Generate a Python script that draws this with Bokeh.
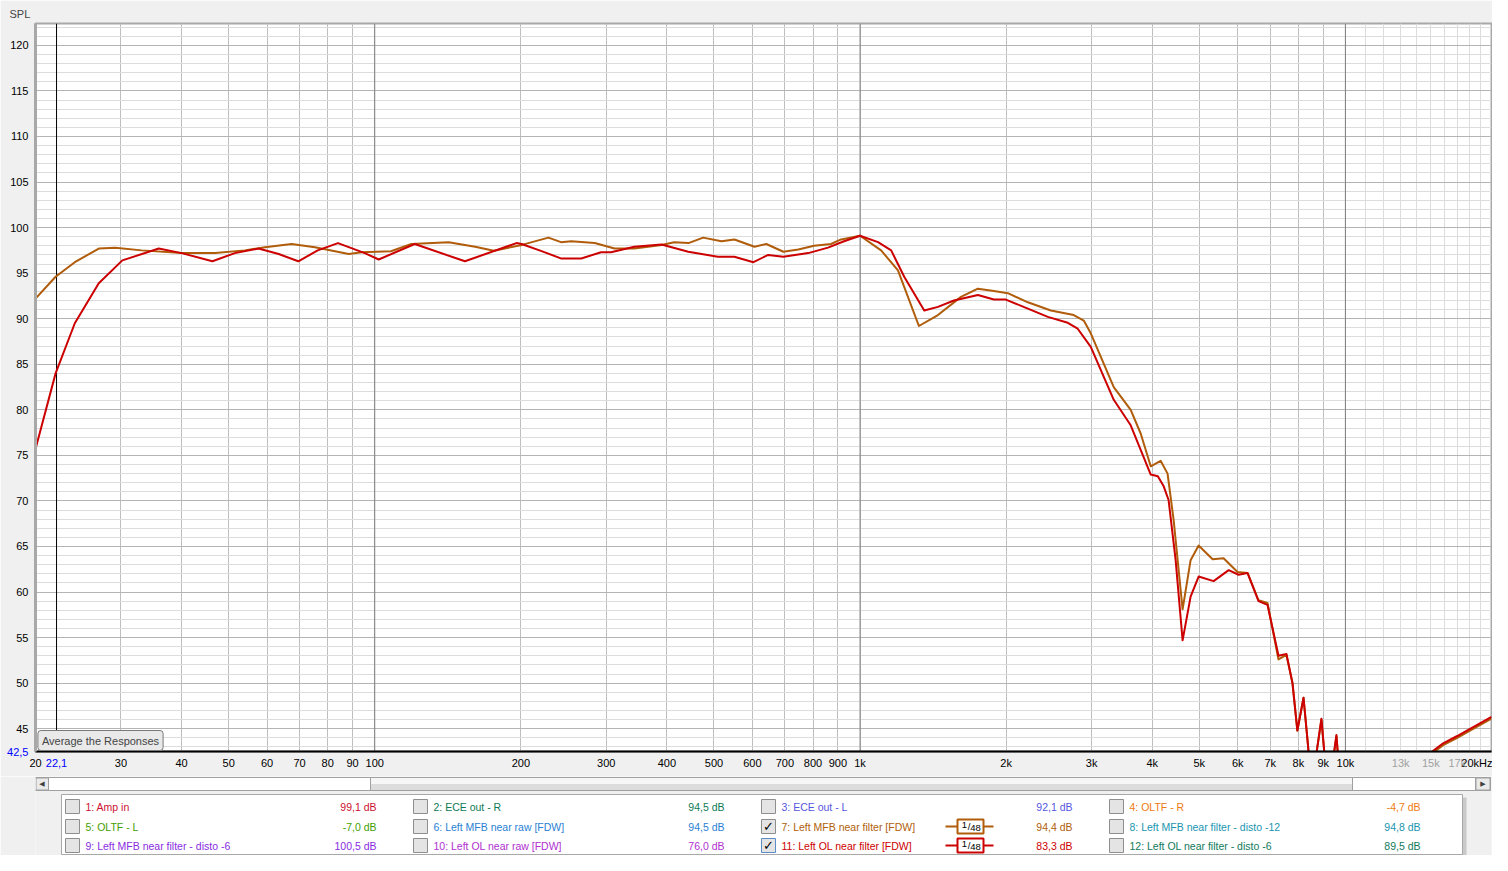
from bokeh.plotting import figure
from bokeh.models import (Range1d, LinearScale, FixedTicker, Span, Label, ColumnDataSource,
                          LogAxis, LinearAxis)
from bokeh.layouts import column
from bokeh.embed import file_html
from bokeh.resources import INLINE
from bokeh.core.properties import value

FONT = "Liberation Sans"

# ---------------- data ----------------
mfb_freq = [20.0, 22.0, 24.1, 27.0, 29.2, 33.1, 40.0, 46.9, 54.0, 59.4, 67.4, 75.3, 88.4, 94.0,
            108, 119, 142, 161, 176, 201, 228, 242, 254, 284, 312, 343, 390, 414, 443, 475,
            518, 551, 606, 641, 695, 746, 804, 871, 914, 1000, 1105, 1197, 1322, 1447, 1614,
            1749, 1887, 2016, 2217, 2472, 2756, 2890, 2988, 3332, 3611, 3786, 3971, 4162, 4301,
            4427, 4619, 4798, 4984, 5326, 5610, 5995, 6285, 6622, 6910, 7280, 7560, 7780, 7962,
            8198, 8380, 8550, 8700, 8925, 9095, 9250, 9400, 9583, 9720, 10000, 12000, 14600,
            15100, 15900, 17000, 17800, 20000]
mfb_spl = [92.2, 94.6, 96.2, 97.7, 97.8, 97.5, 97.2, 97.2, 97.5, 97.85, 98.2, 97.85, 97.1, 97.3,
           97.4, 98.2, 98.4, 97.9, 97.45, 98.1, 98.9, 98.4, 98.5, 98.3, 97.7, 97.7, 98.1, 98.4, 98.3, 98.9,
           98.5, 98.7, 97.9, 98.2, 97.35, 97.6, 98.0, 98.2, 98.7, 99.1, 97.5, 95.3, 89.2, 90.4, 92.4,
           93.3, 93.05, 92.8, 91.8, 90.9, 90.4, 89.8, 88.4, 82.5, 80.0, 77.4, 73.8, 74.4, 73.0,
           67.9, 58.1, 63.5, 65.1, 63.6, 63.7, 62.2, 62.1, 59.1, 58.8, 52.6, 53.1, 50.0, 44.8,
           48.4, 43.0, 36.0, 42.0, 46.0, 41.0, 36.0, 41.0, 44.2, 40.0, 30.0, 25.0, 38.0,
           42.3, 43.2, 44.0, 44.6, 46.1]

ol_freq = [20.0, 22.0, 24.1, 27.0, 30.2, 35.9, 40.0, 46.3, 51.5, 57.6, 63.4, 69.6, 76.3, 84.0,
           95.4, 101.9, 120.9, 153.4, 195.9, 200.7, 220, 242.5, 266.4, 292.6, 306.7, 342.8, 389.9,
           442.6, 509.3, 550.8, 603, 646.6, 694.7, 782, 859, 927, 1000, 1089, 1159, 1233, 1356,
           1447, 1561, 1749, 1887, 1997, 2217, 2437, 2679, 2808, 2988, 3332, 3611, 3834, 3971,
           4107, 4223, 4322, 4469, 4619, 4798, 4984, 5351, 5748, 6024, 6285, 6622, 6910, 7280,
           7560, 7780, 7962, 8198, 8380, 8550, 8700, 8925, 9095, 9250, 9400, 9583, 9720, 10000,
           12000, 14600, 15100, 15900, 17000, 17800, 20000]
ol_spl = [75.7, 84.0, 89.5, 93.9, 96.4, 97.7, 97.2, 96.3, 97.2, 97.7, 97.1, 96.3, 97.5, 98.3,
          97.2, 96.5, 98.2, 96.3, 98.3, 98.2, 97.45, 96.6, 96.6, 97.3, 97.3, 97.9, 98.15,
          97.35, 96.8, 96.8, 96.2, 97.0, 96.8, 97.2, 97.8, 98.5, 99.1, 98.4, 97.5, 94.6, 90.9,
          91.3, 92.0, 92.6, 92.1, 92.1, 91.1, 90.2, 89.55, 88.9, 86.9, 81.1, 78.3, 74.9, 72.9,
          72.7, 71.6, 70.1, 63.5, 54.7, 59.5, 61.7, 61.2, 62.4, 61.9, 62.1, 59.0, 58.6, 53.0,
          53.2, 50.0, 44.8, 48.4, 43.0, 36.0, 42.0, 46.1, 41.0, 36.0, 41.0, 44.3, 40.0, 30.0,
          25.0, 38.0, 42.5, 43.4, 44.2, 44.8, 46.3]

x_ticks = [20, 30, 40, 50, 60, 70, 80, 90, 100, 200, 300, 400, 500, 600, 700, 800, 900,
           1000, 2000, 3000, 4000, 5000, 6000, 7000, 8000, 9000, 10000, 20000]
x_tick_labels = ["20", "30", "40", "50", "60", "70", "80", "90", "100", "200", "300", "400",
                 "500", "600", "700", "800", "900", "1k", "2k", "3k", "4k", "5k", "6k", "7k",
                 "8k", "9k", "10k", "20kHz"]
x_fine_grid = [11000, 12000, 13000, 14000, 15000, 16000, 17000, 18000, 19000]
x_gray_ticks = [13000, 15000, 17000]
x_gray_labels = ["13k", "15k", "17k"]
decades = [100, 1000, 10000]
cursor_freq = 22.1
cursor_label = "22,1"
y_bottom = 42.5
y_bottom_label = "42,5"
y_ticks = list(range(45, 121, 5))
y_fine = [v for v in range(43, 123) if v % 5 != 0]

legend_names = ["1: Amp in", "2: ECE out - R", "3: ECE out - L", "4: OLTF - R",
                "5: OLTF - L", "6: Left MFB near raw [FDW]", "7: Left MFB near filter [FDW]",
                "8: Left MFB near filter - disto -12",
                "9: Left MFB near filter - disto -6", "10: Left OL near raw [FDW]",
                "11: Left OL near filter [FDW]", "12: Left OL near filter - disto -6"]
legend_values = ["99,1 dB", "94,5 dB", "92,1 dB", "-4,7 dB", "-7,0 dB", "94,5 dB", "94,4 dB",
                 "94,8 dB", "100,5 dB", "76,0 dB", "83,3 dB", "89,5 dB"]
legend_colors = ["#CC1030", "#0E7A55", "#5656E0", "#EE7A10", "#44A000", "#2A7FD4", "#B0600A",
                 "#1A95B0", "#8A2BE2", "#B030D0", "#CC0000", "#127A5A"]
legend_checked = [False, False, False, False, False, False, True, False, False, False, True, False]

MFB_COLOR = "#B05C0A"
OL_COLOR = "#CC0000"

# ---------------- main chart ----------------
W = 1492
p = figure(width=W, height=776, x_axis_type="log", x_range=Range1d(20, 20000),
           y_range=Range1d(42.5, 122.4), output_backend="svg", toolbar_location=None,
           min_border_left=35, min_border_right=1, min_border_top=23, min_border_bottom=25,
           title="SPL")
p.extra_x_ranges = {"px": Range1d(35, 1491)}
p.extra_x_scales = {"px": LinearScale()}
p.extra_y_ranges = {"py": Range1d(751, 23)}
p.extra_y_scales = {"py": LinearScale()}

p.title.align = "left"
p.title.offset = -26
p.title.standoff = 7
p.title.text_font = FONT
p.title.text_font_size = "11px"
p.title.text_font_style = "normal"

p.background_fill_color = "white"
p.border_fill_color = "#F0F0F0"
p.outline_line_color = "#A8A8A8"
p.outline_line_width = 2


def style_axis(ax, color="black", size="11px"):
    ax.major_tick_out = 0
    ax.major_tick_in = 0
    ax.minor_tick_out = 0
    ax.minor_tick_in = 0
    ax.major_label_text_font = FONT
    ax.major_label_text_font_size = size
    ax.major_label_text_color = color


p.xaxis.ticker = FixedTicker(ticks=x_ticks)
p.xaxis.major_label_overrides = {t: l for t, l in zip(x_ticks, x_tick_labels)}
p.yaxis.ticker = FixedTicker(ticks=y_ticks)
style_axis(p.xaxis[0])
style_axis(p.yaxis[0])
p.xaxis.axis_line_color = "black"
p.xaxis.axis_line_width = 2
p.xaxis.major_label_standoff = 5
p.yaxis.axis_line_color = "#A8A8A8"
p.yaxis.axis_line_width = 3
p.yaxis.major_label_standoff = 7

# secondary label rows (gray 13k/15k/17k and the blue cursor read-outs)
ax_gray = LogAxis(ticker=FixedTicker(ticks=x_gray_ticks),
                  major_label_overrides={t: l for t, l in zip(x_gray_ticks, x_gray_labels)},
                  axis_line_color=None, major_label_standoff=-15)
style_axis(ax_gray, "#A0A0A0")
p.add_layout(ax_gray, "below")
ax_cur = LogAxis(ticker=FixedTicker(ticks=[cursor_freq]),
                 major_label_overrides={cursor_freq: cursor_label},
                 axis_line_color=None, major_label_standoff=-13)
style_axis(ax_cur, "#0000FF")
p.add_layout(ax_cur, "below")
ay_cur = LinearAxis(ticker=FixedTicker(ticks=[y_bottom]),
                    major_label_overrides={y_bottom: y_bottom_label},
                    axis_line_color=None, major_label_standoff=-21)
style_axis(ay_cur, "#0000FF")
p.add_layout(ay_cur, "left")

p.xgrid.ticker = FixedTicker(ticks=x_ticks, minor_ticks=x_fine_grid)
p.xgrid.grid_line_color = "#BEBEBE"
p.xgrid.minor_grid_line_color = "#DCDCDC"
p.ygrid.ticker = FixedTicker(ticks=y_ticks, minor_ticks=y_fine)
p.ygrid.grid_line_color = "#B4B4B4"
p.ygrid.minor_grid_line_color = "#DCDCDC"

for d in decades:
    s = Span(location=d, dimension="height", line_color="#808080", line_width=1)
    s.level = "underlay"
    p.add_layout(s)
cs = Span(location=cursor_freq, dimension="height", line_color="black", line_width=1)
cs.level = "underlay"
p.add_layout(cs)

p.line(mfb_freq, mfb_spl, line_color=MFB_COLOR, line_width=2, line_join="round")
p.line(ol_freq, ol_spl, line_color=OL_COLOR, line_width=2, line_join="round")

p.add_layout(Label(x=100, y=740, x_range_name="px", y_range_name="py",
                   text="Average the Responses", text_font=FONT, text_font_size="11px",
                   text_align="center", text_baseline="middle",
                   background_fill_color="#E9E9E9", border_line_color="#7A7A7A",
                   padding=4, border_radius=3))

# ---------------- scrollbar + legend panel ----------------
p2 = figure(width=W, height=79, x_range=Range1d(35, 1491), y_range=Range1d(855, 776),
            output_backend="svg", toolbar_location=None,
            min_border_left=35, min_border_right=1, min_border_top=0, min_border_bottom=0,
            x_axis_location=None, y_axis_location=None)
p2.grid.visible = False
p2.outline_line_color = None
p2.background_fill_color = "#F0F0F0"
p2.border_fill_color = "#F0F0F0"

# scrollbar
p2.quad(left=[33], right=[1490], top=[777], bottom=[790], fill_color="white",
        line_color="#A0A0A0")
p2.quad(left=[370], right=[1352], top=[777.5], bottom=[783.5], fill_color="#F6F6F6",
        line_color=None)
p2.quad(left=[370], right=[1352], top=[783.5], bottom=[789.5], fill_color="#DCDCDC",
        line_color=None)
p2.quad(left=[370, 1475], right=[1352, 1490], top=[777, 777],
        bottom=[790, 790], fill_color=None, line_color="#A0A0A0")
p2.quad(left=[35.5, 1475.5], right=[48, 1489.5], top=[777.5, 777.5], bottom=[789.5, 789.5],
        fill_color="#EAEAEA", line_color="#A0A0A0")
p2.text(x=[41.5, 1482.5], y=[783.5, 783.5], text=["◀", "▶"], text_font_size="7px",
        text_color="#404040", text_align="center", text_baseline="middle",
        text_font=value("DejaVu Sans"))

# legend panel
p2.quad(left=[64], right=[1466], top=[797], bottom=[858], fill_color="#B8B8B8",
        line_color=None, fill_alpha=0.7)
p2.quad(left=[61], right=[1462], top=[794], bottom=[854], fill_color="white",
        line_color="#A8A8A8")

row_y = [806, 826, 845]
col_box = [65, 413, 761, 1109]
col_val = [376, 724, 1072, 1420]
bx, by, tx, vx, cy_checked, cx_checked = [], [], [], [], [], []
for i in range(12):
    r, c = i // 4, i % 4
    bx.append(col_box[c])
    by.append(row_y[r])
    tx.append(col_box[c] + 20)
    vx.append(col_val[c])
    if legend_checked[i]:
        cx_checked.append(col_box[c] + 7)
        cy_checked.append(row_y[r])

src = ColumnDataSource(dict(
    l=bx, r=[b + 14 for b in bx], t=[y - 7 for y in by], b=[y + 7 for y in by],
    tx=tx, vx=vx, y=by, name=legend_names, val=legend_values, col=legend_colors,
    edge=["#5A8CC8" if i == 10 else "#8E8E8E" for i in range(12)]))
p2.quad(left="l", right="r", top="t", bottom="b", source=src, fill_color="#E4E4E4",
        line_color="edge")
p2.text(x="tx", y="y", text="name", text_color="col", source=src,
        text_font=value(FONT), text_font_size="10.5px", text_baseline="middle",
        text_align="left")
p2.text(x="vx", y="y", text="val", text_color="col", source=src,
        text_font=value(FONT), text_font_size="10.5px", text_baseline="middle",
        text_align="right")
p2.text(x=cx_checked, y=cy_checked, text=["✓"] * len(cx_checked), text_color="black",
        text_font=value("DejaVu Sans"), text_font_size="13px", text_font_style="bold",
        text_align="center", text_baseline="middle")

# resolution icons of the two visible traces
icon_rows = [row_y[1], row_y[2]]
icon_cols = [MFB_COLOR, OL_COLOR]
for yy, cc in zip(icon_rows, icon_cols):
    p2.segment(x0=[945], y0=[yy], x1=[993], y1=[yy], line_color=cc, line_width=2)
    p2.quad(left=[957], right=[983], top=[yy - 7], bottom=[yy + 7], fill_color="white",
            line_color=cc, line_width=2)
    p2.text(x=[964, 968.5, 975], y=[yy - 2, yy, yy + 1.5], text=["1", "/", "48"],
            text_color="black", text_font=value(FONT),
            text_font_size="9.5px", text_align="center", text_baseline="middle")

layout = column(p, p2)
open("out.html", "w").write(file_html(layout, INLINE))
